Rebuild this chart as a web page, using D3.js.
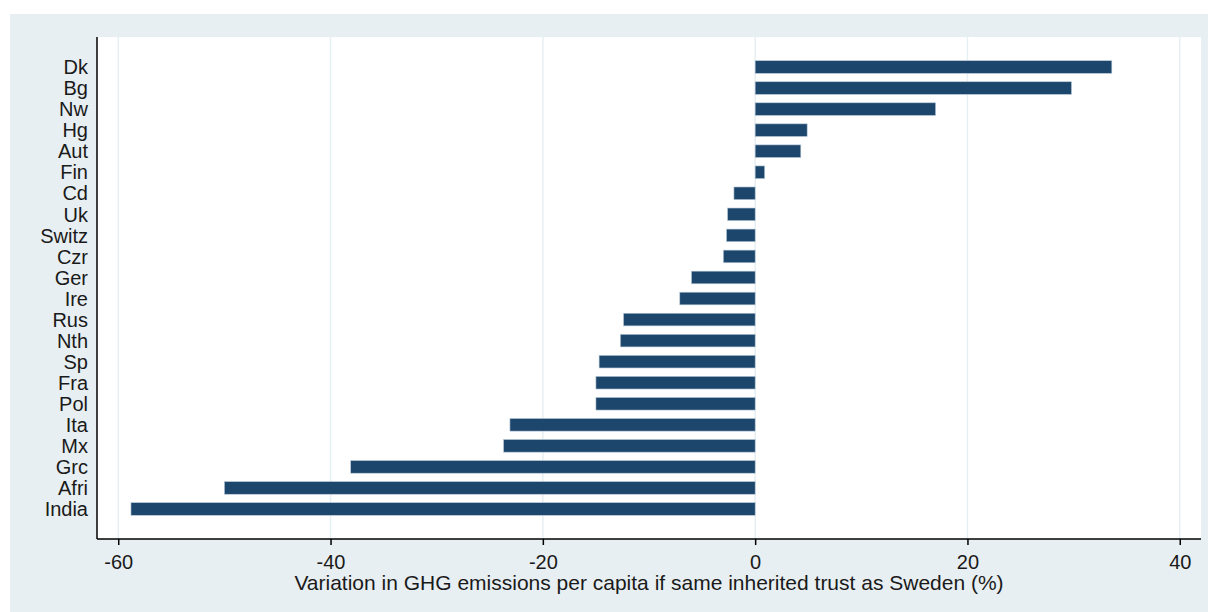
<!DOCTYPE html>
<meta charset="utf-8">
<style>
    body { margin: 0; background: #fff; }
    svg text { font-family: "Liberation Sans", Arial, sans-serif; fill: #1a1a1a; }
    .grid line { stroke: #e6eff3; stroke-width: 1.5px; }
    .bar { fill: #1c466c; stroke: #b9c8d6; stroke-width: 0.6px; }
</style>
<svg width="1209" height="612"></svg>
<script src="https://cdn.jsdelivr.net/npm/d3@7"></script>
<script>
    // countries, top to bottom
    var countries = ['Dk', 'Bg', 'Nw', 'Hg', 'Aut', 'Fin', 'Cd', 'Uk', 'Switz', 'Czr', 'Ger',
        'Ire', 'Rus', 'Nth', 'Sp', 'Fra', 'Pol', 'Ita', 'Mx', 'Grc', 'Afri', 'India'];
    // variation in GHG emissions per capita (%)
    var variation = [33.6, 29.8, 17.0, 4.9, 4.3, 0.9, -2.0, -2.6, -2.7, -3.0, -6.0,
        -7.1, -12.4, -12.7, -14.7, -15.0, -15.0, -23.1, -23.7, -38.1, -50.0, -58.8];
    var xTicks = [-60, -40, -20, 0, 20, 40];
    var xTitle = 'Variation in GHG emissions per capita if same inherited trust as Sweden (%)';

    var svgElem = d3.select('svg');
    // outer panel
    svgElem.append('rect')
        .attr('x', 10).attr('y', 14)
        .attr('width', 1198).attr('height', 598)
        .attr('fill', '#e8eff2');

    var margin = { left: 97, top: 37, right: 8, bottom: 73 };
    var width = +svgElem.attr('width') - margin.left - margin.right;
    var height = +svgElem.attr('height') - margin.top - margin.bottom;
    var g = svgElem.append('g')
        .attr('transform', `translate(${margin.left}, ${margin.top})`);

    var x = d3.scaleLinear().domain([-62, 42]).range([0, width]);
    var y = d3.scaleBand().domain(countries).range([19.5, 482.5]).paddingInner(0.4).paddingOuter(0.2);

    g.append('rect')
        .attr('width', width).attr('height', height)
        .attr('fill', '#fff');

    g.append('g')
        .attr('class', 'grid')
        .selectAll('line')
        .data(xTicks)
        .enter()
        .append('line')
        .attr('x1', function (d) { return x(d); })
        .attr('x2', function (d) { return x(d); })
        .attr('y1', 0).attr('y2', height);

    var data = countries.map(function (c, i) {
        return { name: c, value: variation[i] };
    });

    g.selectAll('.bar')
        .data(data)
        .enter()
        .append('rect')
        .attr('class', 'bar')
        .attr('x', function (d) { return x(Math.min(0, d.value)); })
        .attr('y', function (d) { return y(d.name); })
        .attr('width', function (d) { return Math.abs(x(d.value) - x(0)); })
        .attr('height', y.bandwidth());

    // y axis
    var yAxis = g.append('g')
        .call(d3.axisLeft(y).tickSize(0).tickPadding(9));
    yAxis.select('.domain').attr('d', `M0,0V${height}`).attr('stroke', '#000').attr('stroke-width', 1.5);
    yAxis.selectAll('text').style('font-size', '20px').attr('dy', '0.36em');

    // x axis
    var xAxis = g.append('g')
        .attr('transform', `translate(0, ${height})`)
        .call(d3.axisBottom(x).tickValues(xTicks).tickSize(6).tickPadding(10).tickFormat(d3.format('d')));
    xAxis.select('.domain').attr('d', `M0,0H${width}`).attr('stroke', '#000').attr('stroke-width', 1.5);
    xAxis.selectAll('.tick line').attr('stroke', '#000').attr('stroke-width', 1.5);
    xAxis.selectAll('text').style('font-size', '20px').attr('dy', '0.68em').text(function (d) {
        return d < 0 ? '-' + Math.abs(d) : d;
    });

    g.append('text')
        .attr('x', width / 2)
        .attr('y', height + 51)
        .attr('text-anchor', 'middle')
        .style('font-size', '21px')
        .text(xTitle);
</script>
